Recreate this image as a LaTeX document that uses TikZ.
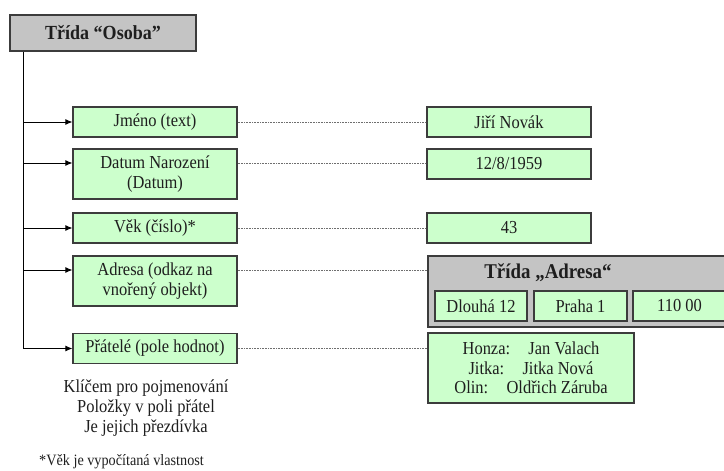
\documentclass[tikz,border=0pt]{standalone}
\usepackage{fontspec}
\setmainfont[FakeStretch=0.9]{Liberation Serif}
\usetikzlibrary{arrows.meta}
\definecolor{zelena}{HTML}{CCFFCC}
\definecolor{seda}{HTML}{C4C4C4}
\definecolor{ramecek}{HTML}{3C3C3C}
\definecolor{teckovana}{HTML}{6E6E6E}
\definecolor{pismo}{HTML}{1E1E1E}
\begin{document}
\begin{tikzpicture}
[
    x=1pt, y=-1pt,
    every node/.style={text=pismo},
    trida/.style={draw=ramecek, fill=seda, line width=1.2pt, inner sep=0pt},
    nazev/.style={font=\fontsize{20}{22}\selectfont\bfseries},
    pole/.style={draw=ramecek, fill=zelena, line width=1.2pt, inner sep=0pt,
        align=center, font=\fontsize{18.3}{20.5}\selectfont,
        minimum width=164pt, minimum height=30pt},
    sipka/.style={-{Latex[length=7pt,width=6pt]}, line width=0.9pt},
    tecky/.style={draw=teckovana, line width=0.7pt, dash pattern=on 0.8pt off 0.8pt},
]
\useasboundingbox (0,0) rectangle (724,471);

% trida Osoba
\node[trida, nazev, minimum width=186pt, minimum height=36pt] (osoba) at (103,33) {Třída “Osoba”};

% vlastnosti
\node[pole] (jmeno) at (155,122) {Jméno (text)};
\node[pole, minimum height=50pt] (datum) at (155,174) {Datum Narození\\(Datum)};
\node[pole] (vek) at (155,228) {Věk (číslo)*};
\node[pole, minimum height=50pt] (adresa) at (155,281) {Adresa (odkaz na\\vnořený objekt)};
\node[pole] (pratele) at (155,348.5) {Přátelé (pole hodnot)};

% hodnoty
\node[pole] (jmenoval) at (509,122) {Jiří Novák};
\node[pole] (datumval) at (509,164) {12/8/1959};
\node[pole] (vekval) at (509,228) {43};
\node[trida, minimum width=302pt, minimum height=71pt] (adresatrida) at (579,291.5) {};
\node[nazev, font=\fontsize{21}{23}\selectfont\bfseries] (adresanazev) at (548,273) {Třída „Adresa“};
\node[pole, minimum width=92pt] (ulice) at (481,306) {Dlouhá 12};
\node[pole, minimum width=93pt] (mesto) at (580.5,306) {Praha 1};
\node[pole, minimum width=93pt] (psc) at (679.5,306) {110 00};
\node[pole, minimum width=206pt, minimum height=70pt, font=\fontsize{18.3}{19.5}\selectfont] (prateleval) at (531,368)
    {Honza:\quad Jan Valach\\Jitka:\quad Jitka Nová\\Olin:\quad Oldřich Záruba};

% poznamky
\node[align=center, font=\fontsize{18.3}{20}\selectfont] (klic) at (146,408)
    {Klíčem pro pojmenování\\Položky v poli přátel\\Je jejich přezdívka};
\node[anchor=base west, font=\fontsize{15.8}{17}\selectfont, inner sep=0pt] (vypocet) at (39,465)
    {*Věk je vypočítaná vlastnost};

% spojnice
\coordinate (kmen) at ([xshift=14pt]osoba.south west);
\coordinate (datumin) at ([yshift=11pt]datum.west);
\coordinate (adresain) at ([yshift=11pt]adresa.west);
\draw[line width=0.9pt] (kmen) -- (kmen |- pratele.west);
\draw[sipka] (kmen |- jmeno.west) -- (jmeno.west);
\draw[sipka] (kmen |- datumin) -- (datumin);
\draw[sipka] (kmen |- vek.west) -- (vek.west);
\draw[sipka] (kmen |- adresain) -- (adresain);
\draw[sipka] (kmen |- pratele.west) -- (pratele.west);

\draw[tecky] (jmeno.east) -- (jmenoval.west);
\draw[tecky] ([yshift=11pt]datum.east) -- ([yshift=11pt]datum.east -| datumval.west);
\draw[tecky] (vek.east) -- (vekval.west);
\draw[tecky] ([yshift=11pt]adresa.east) -- ([yshift=11pt]adresa.east -| adresatrida.west);
\draw[tecky] (pratele.east) -- (pratele.east -| prateleval.west);
\end{tikzpicture}
\end{document}
